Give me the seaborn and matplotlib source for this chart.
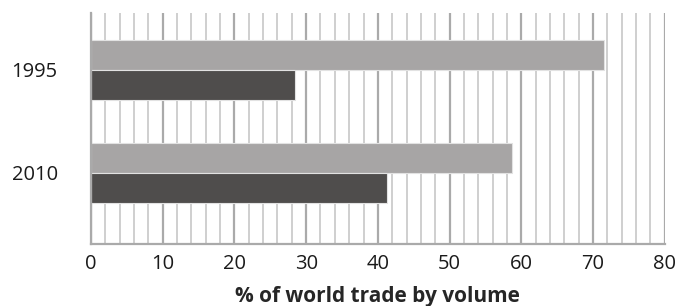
import pandas as pd
import matplotlib.pyplot as plt
import seaborn as sns
from matplotlib.ticker import MultipleLocator

# values
years = ["1995", "2010"]
light_share = [71.5, 58.7]
dark_share = [28.5, 41.3]
series_names = ["Light", "Dark"]

df = pd.DataFrame({
    "year": years * 2,
    "share": light_share + dark_share,
    "series": [series_names[0]] * len(years) + [series_names[1]] * len(years),
})

sns.set_theme(style="white")
plt.rcParams["font.family"] = ["Open Sans", "DejaVu Sans"]

fig = plt.figure(figsize=(6.79, 3.06), dpi=100)
ax = fig.add_axes([0.134, 0.203, 0.845, 0.755])

ax.xaxis.set_minor_locator(MultipleLocator(2))
ax.xaxis.set_major_locator(MultipleLocator(10))
ax.grid(which="minor", axis="x", color="#cccccc", linewidth=1.3)
ax.grid(which="major", axis="x", color="#aaaaaa", linewidth=1.6)
ax.set_axisbelow(True)

sns.barplot(
    data=df, x="share", y="year", hue="series", orient="h",
    order=years, hue_order=series_names,
    palette=["#a7a5a5", "#4f4d4b"], width=0.583,
    edgecolor="#e2e2e2", linewidth=0.8, legend=False, ax=ax,
)

ax.set_xlim(0, 80)
ax.set_ylim(1.69, -0.553)
ax.set_ylabel("")
ax.set_xlabel("% of world trade by volume", fontsize=15, fontweight="bold", labelpad=9)
ax.tick_params(axis="both", which="both", length=0, labelsize=14.5, colors="#1a1a1a")
ax.tick_params(axis="x", pad=7)
ax.tick_params(axis="y", pad=24)

for side in ["top", "right"]:
    ax.spines[side].set_visible(False)
for side in ["left", "bottom"]:
    ax.spines[side].set_color("#aaaaaa")
    ax.spines[side].set_linewidth(1.6)

fig.savefig("out.png", dpi=100)
